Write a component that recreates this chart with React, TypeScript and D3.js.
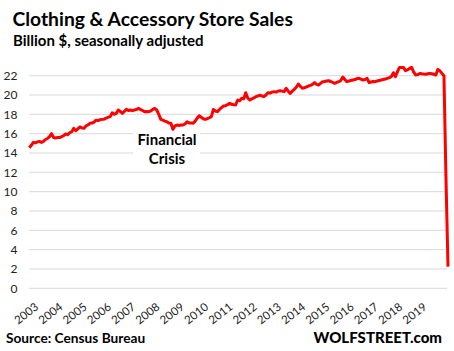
import * as d3 from "d3";

const years = ["2003", "2004", "2005", "2006", "2007", "2008", "2009", "2010", "2011",
  "2012", "2013", "2014", "2015", "2016", "2017", "2018", "2019"];

const yTicks = [0, 2, 4, 6, 8, 10, 12, 14, 16, 18, 20, 22];

// monthly sales, billion $, Jan 2003 .. Apr 2020
const sales = [
  14.55, 14.8, 15.1, 15.05, 15.15, 15.2, 15.1, 15.2, 15.4, 15.5, 15.7, 16.0,
  15.6, 15.55, 15.6, 15.6, 15.7, 15.8, 15.97, 15.9, 16.1, 16.2, 16.55, 16.3,
  16.5, 16.7, 16.6, 16.55, 16.8, 16.9, 17.07, 17.1, 17.2, 17.4, 17.35, 17.45,
  17.48, 17.5, 17.6, 17.7, 17.76, 18.17, 18.0, 18.1, 18.45, 18.3, 18.1, 18.3,
  18.52, 18.4, 18.45, 18.38, 18.45, 18.5, 18.62, 18.5, 18.4, 18.28, 18.3, 18.28,
  18.35, 18.5, 18.62, 18.45, 18.0, 17.48, 17.4, 17.3, 17.24, 17.1, 17.07, 16.45,
  16.8, 16.9, 16.85, 16.9, 16.9, 17.0, 17.24, 17.1, 17.1, 17.07, 17.3, 17.6,
  17.85, 17.7, 17.55, 17.48, 17.55, 17.65, 17.76, 18.5, 18.35, 18.28, 18.5, 18.7,
  18.86, 18.9, 19.0, 19.14, 19.05, 19.0, 18.97, 19.48, 19.4, 19.66, 19.6, 20.24,
  19.7, 19.48, 19.6, 19.7, 19.83, 19.9, 20.0, 19.9, 19.83, 20.0, 20.24, 20.2,
  20.3, 20.35, 20.3, 20.4, 20.45, 20.4, 20.35, 20.7, 20.4, 20.17, 20.4, 20.59,
  20.8, 21.14, 20.9, 20.7, 20.75, 20.85, 20.93, 21.0, 21.1, 21.28, 21.1, 21.04,
  21.2, 21.38, 21.4, 21.45, 21.48, 21.4, 21.3, 21.21, 21.3, 21.38, 21.5, 21.86,
  21.6, 21.38, 21.45, 21.5, 21.55, 21.6, 21.7, 21.73, 21.65, 21.55, 21.6, 21.73,
  21.28, 21.35, 21.4, 21.38, 21.45, 21.5, 21.55, 21.6, 21.65, 21.73, 21.8, 21.9,
  22.31, 21.9, 22.4, 22.86, 22.86, 22.86, 22.52, 22.6, 22.75, 22.86, 22.4, 22.07,
  22.1, 22.24, 22.2, 22.17, 22.15, 22.2, 22.24, 22.2, 22.15, 22.07, 22.66, 22.5,
  22.24, 22.0, 11.4, 2.24,
];

const width = 454;
const height = 351;
const font = "Lato, 'DejaVu Sans', sans-serif";

export default function App() {
  const x = d3.scaleLinear().domain([0, sales.length - 1]).range([29.3, 448]);
  const y = d3.scaleLinear().domain([0, 22]).range([288.3, 75.7]);

  const line = d3
    .line<number>()
    .x((d, i) => x(i))
    .y((d) => y(d));

  return (
    <svg
      width={width}
      height={height}
      style={{ position: "absolute", left: 0, top: 0, background: "#fff" }}
      fontFamily={font}
    >
      <text x={12.5} y={25.5} fontSize={19.3} fontWeight="bold" fill="#000">
        Clothing &amp; Accessory Store Sales
      </text>
      <text x={13} y={45.5} fontSize={15} fontWeight="bold" fill="#000">
        Billion $, seasonally adjusted
      </text>

      {yTicks.map((t) => (
        <g key={t}>
          <line x1={29} x2={447} y1={y(t)} y2={y(t)} stroke="#d9d9d9" strokeWidth={1} />
          <text x={17.5} y={y(t)} dy="0.35em" textAnchor="end" fontSize={12} fill="#222">
            {t}
          </text>
        </g>
      ))}

      {years.map((yr, k) => (
        <text
          key={yr}
          transform={`translate(${x(k * 12) + 5},${302}) rotate(-38)`}
          textAnchor="end"
          dy="0.7em"
          fontSize={11.5}
          fill="#222"
        >
          {yr}
        </text>
      ))}

      <rect x={133} y={126} width={67} height={44} fill="#fff" />
      <text x={167} y={145} textAnchor="middle" fontSize={15} fontWeight="bold" fill="#000">
        Financial
      </text>
      <text x={167} y={163.5} textAnchor="middle" fontSize={15} fontWeight="bold" fill="#000">
        Crisis
      </text>

      <path d={line(sales) ?? ""} fill="none" stroke="#ff0000" strokeWidth={3} strokeLinejoin="round" />

      <text x={6} y={343} fontSize={13.7} fontWeight="bold" fill="#000">
        Source: Census Bureau
      </text>
      <text x={442} y={343} textAnchor="end" fontSize={15} fontWeight="900" fill="#000">
        WOLFSTREET.com
      </text>
    </svg>
  );
}
